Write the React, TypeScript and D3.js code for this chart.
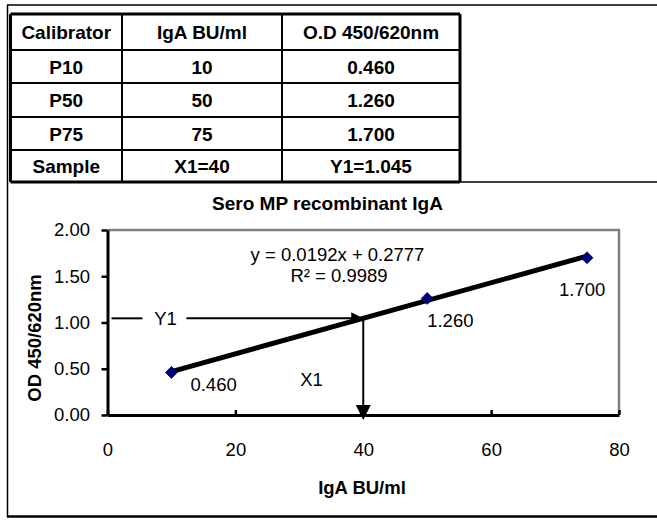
import React, { useEffect, useRef } from 'react';
import * as d3 from 'd3';

const tableHeader = ['Calibrator', 'IgA BU/ml', 'O.D 450/620nm'];
const calibrators = ['P10', 'P50', 'P75'];
const concentrations = [10, 50, 75];
const odValues = [0.46, 1.26, 1.7];
const sampleName = 'Sample';
const sampleX = 40;
const sampleY = 1.045;
const slope = 0.0192;
const intercept = 0.2777;
const rSquared = 0.9989;
const xTicks = [0, 20, 40, 60, 80];
const yTicks = [0, 0.5, 1, 1.5, 2];

const FONT = '"Liberation Sans", Arial, sans-serif';

// label placement relative to each point (px)
const labelOffsets: [number, number][] = [
  [19, 19],
  [0, 29],
  [-28, 38]
];

const App = () => {
  const ref = useRef<SVGSVGElement>(null);

  useEffect(() => {
    const svg = d3.select(ref.current);
    svg.selectAll('*').remove();

    // outer frame (the page table)
    const frame = svg.append('g').attr('stroke', 'black').attr('fill', 'none');
    frame.append('line').attr('x1', 7).attr('x2', 657).attr('y1', 5).attr('y2', 5).attr('stroke-width', 1.5);
    frame.append('line').attr('x1', 7.5).attr('x2', 7.5).attr('y1', 5).attr('y2', 517).attr('stroke-width', 1.5);
    frame.append('line').attr('x1', 460).attr('x2', 657).attr('y1', 182).attr('y2', 182).attr('stroke-width', 1.5);
    frame.append('line').attr('x1', 7).attr('x2', 657).attr('y1', 516.5).attr('y2', 516.5).attr('stroke-width', 2.5);

    // calibration table
    const rows: string[][] = [
      tableHeader,
      ...calibrators.map((c, i) => [c, String(concentrations[i]), odValues[i].toFixed(3)]),
      [sampleName, `X1=${sampleX}`, `Y1=${sampleY.toFixed(3)}`]
    ];
    const rowLines = [14, 50, 83, 117, 150, 182];
    const colLines = [10.5, 122, 282, 460];

    const table = svg.append('g');
    rowLines.forEach((ry, i) => {
      const outer = i === 0 || i === rowLines.length - 1;
      table
        .append('line')
        .attr('x1', colLines[0])
        .attr('x2', colLines[colLines.length - 1])
        .attr('y1', ry)
        .attr('y2', ry)
        .attr('stroke', 'black')
        .attr('stroke-width', outer ? 3 : 2);
    });
    colLines.forEach((cx, i) => {
      const outer = i === 0 || i === colLines.length - 1;
      table
        .append('line')
        .attr('x1', cx)
        .attr('x2', cx)
        .attr('y1', rowLines[0])
        .attr('y2', rowLines[rowLines.length - 1])
        .attr('stroke', 'black')
        .attr('stroke-width', outer ? 3 : 2);
    });
    rows.forEach((row, r) => {
      row.forEach((cell, c) => {
        table
          .append('text')
          .attr('x', (colLines[c] + colLines[c + 1]) / 2)
          .attr('y', (rowLines[r] + rowLines[r + 1]) / 2 + 7)
          .attr('text-anchor', 'middle')
          .attr('font-family', FONT)
          .attr('font-weight', 'bold')
          .attr('font-size', 19)
          .text(cell);
      });
    });

    // chart
    const x = d3.scaleLinear().domain([0, 80]).range([107.5, 619]);
    const y = d3.scaleLinear().domain([0, 2]).range([415, 230]);

    svg
      .append('text')
      .attr('x', 327.5)
      .attr('y', 210)
      .attr('text-anchor', 'middle')
      .attr('font-family', FONT)
      .attr('font-weight', 'bold')
      .attr('font-size', 19)
      .text('Sero MP recombinant IgA');

    // gray plot border (top and right)
    svg
      .append('path')
      .attr('d', `M${x(0)},${y(2)}H${x(80)}V${y(0)}`)
      .attr('fill', 'none')
      .attr('stroke', '#808080')
      .attr('stroke-width', 2.5);

    const yAxis = svg
      .append('g')
      .attr('transform', `translate(${x(0)},0)`)
      .call(
        d3
          .axisLeft(y)
          .tickValues(yTicks)
          .tickFormat(d3.format('.2f'))
          .tickSizeInner(6)
          .tickSizeOuter(0)
          .tickPadding(11.5)
      );
    yAxis.select('.domain').attr('stroke-width', 3).attr('stroke', 'black');
    yAxis.selectAll('.tick line').attr('stroke-width', 2.5);
    yAxis.selectAll('.tick text').attr('font-family', FONT).attr('font-size', 18.5).attr('fill', 'black');

    const xAxis = svg
      .append('g')
      .attr('transform', `translate(0,${y(0)})`)
      .call(
        d3
          .axisBottom(x)
          .tickValues(xTicks)
          .tickFormat(d3.format('d'))
          .tickSizeInner(-5)
          .tickSizeOuter(0)
          .tickPadding(28)
      );
    xAxis.select('.domain').attr('stroke-width', 3).attr('stroke', 'black');
    xAxis.selectAll('.tick line').attr('stroke-width', 2.5);
    xAxis.selectAll('.tick text').attr('font-family', FONT).attr('font-size', 18.5).attr('fill', 'black');

    // axis titles
    svg
      .append('text')
      .attr('x', 362)
      .attr('y', 493.5)
      .attr('text-anchor', 'middle')
      .attr('font-family', FONT)
      .attr('font-weight', 'bold')
      .attr('font-size', 18.5)
      .text('IgA BU/ml');
    svg
      .append('text')
      .attr('transform', 'translate(41,338) rotate(-90)')
      .attr('text-anchor', 'middle')
      .attr('font-family', FONT)
      .attr('font-weight', 'bold')
      .attr('font-size', 18.5)
      .text('OD 450/620nm');

    // sample read-off arrows
    const sx = x(sampleX);
    const sy = y(sampleY);
    const arrows = svg.append('g').attr('stroke', 'black').attr('stroke-width', 2);
    arrows.append('line').attr('x1', x(0) + 4).attr('x2', x(0) + 35).attr('y1', sy).attr('y2', sy);
    arrows.append('line').attr('x1', x(0) + 79).attr('x2', sx - 10).attr('y1', sy).attr('y2', sy);
    arrows.append('line').attr('x1', sx).attr('x2', sx).attr('y1', sy).attr('y2', y(0) - 10);
    svg
      .append('path')
      .attr('d', `M${sx},${sy}L${sx - 12},${sy - 6}L${sx - 12},${sy + 6}Z`)
      .attr('fill', 'black');
    svg
      .append('path')
      .attr('d', `M${sx},${y(0) + 5}L${sx - 7.5},${y(0) - 10}L${sx + 7.5},${y(0) - 10}Z`)
      .attr('fill', 'black');

    svg
      .append('text')
      .attr('x', x(0) + 58)
      .attr('y', sy + 6.5)
      .attr('text-anchor', 'middle')
      .attr('font-family', FONT)
      .attr('font-size', 18.5)
      .text('Y1');
    svg
      .append('text')
      .attr('x', 311.5)
      .attr('y', 385.5)
      .attr('text-anchor', 'middle')
      .attr('font-family', FONT)
      .attr('font-size', 18.5)
      .text('X1');

    // linear trend line
    const xMin = d3.min(concentrations) as number;
    const xMax = d3.max(concentrations) as number;
    const trend = d3
      .line<number>()
      .x((d) => x(d))
      .y((d) => y(slope * d + intercept));
    svg
      .append('path')
      .attr('d', trend([xMin, xMax]))
      .attr('fill', 'none')
      .attr('stroke', 'black')
      .attr('stroke-width', 5);

    // calibrator points
    svg
      .append('g')
      .selectAll('path')
      .data(concentrations)
      .enter()
      .append('path')
      .attr('d', d3.symbol(d3.symbolSquare, 70)())
      .attr('transform', (d, i) => `translate(${x(d)},${y(odValues[i])}) rotate(45)`)
      .attr('fill', '#000080')
      .attr('stroke', '#000060')
      .attr('stroke-width', 0.8);

    svg
      .append('g')
      .selectAll('text')
      .data(concentrations)
      .enter()
      .append('text')
      .attr('x', (d, i) => x(d) + labelOffsets[i][0])
      .attr('y', (d, i) => y(odValues[i]) + labelOffsets[i][1])
      .attr('font-family', FONT)
      .attr('font-size', 18.5)
      .text((d, i) => odValues[i].toFixed(3));

    // equation
    svg
      .append('text')
      .attr('x', 337.5)
      .attr('y', 261)
      .attr('text-anchor', 'middle')
      .attr('font-family', FONT)
      .attr('font-size', 18.5)
      .text(`y = ${slope}x + ${intercept}`);
    svg
      .append('text')
      .attr('x', 339)
      .attr('y', 282)
      .attr('text-anchor', 'middle')
      .attr('font-family', FONT)
      .attr('font-size', 18.5)
      .text(`R² = ${rSquared}`);
  }, []);

  return (
    <svg
      ref={ref}
      width={657}
      height={521}
      style={{ position: 'absolute', left: 0, top: 0, background: 'white' }}
    />
  );
};

export default App;
